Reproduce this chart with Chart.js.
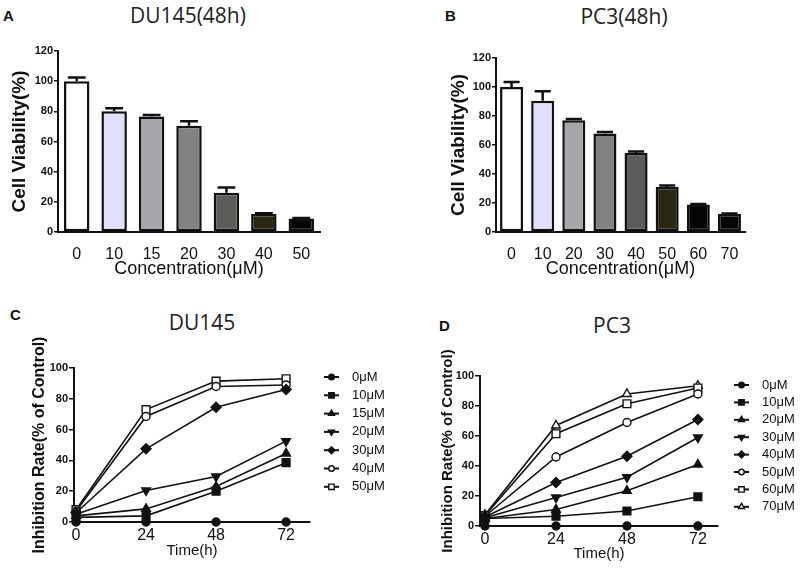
<!DOCTYPE html>
<html lang="en">
<head>
<meta charset="UTF-8">
<title>DU145 / PC3 viability and inhibition</title>
<script src="https://cdn.jsdelivr.net/npm/chart.js"></script>
<style>
  body { margin: 0; width: 800px; height: 573px; position: relative; background: #fff; overflow: hidden; }
  canvas { position: absolute; }
  .letter { position: absolute; font: bold 15px "Liberation Sans", Arial, sans-serif; line-height: 1; color: #111; transform: translateY(-50%); }
  .title { position: absolute; font: 21px "Open Sans", sans-serif; line-height: 1; color: #222; transform: translate(-50%, -50%); white-space: nowrap; }
</style>
</head>
<body>
<div class="letter" style="left:3px; top:15px">A</div>
<div class="title" style="left:188px; top:15px">DU145(48h)</div>
<div class="letter" style="left:445px; top:15px">B</div>
<div class="title" style="left:624px; top:16px">PC3(48h)</div>
<div class="letter" style="left:10px; top:314px">C</div>
<div class="title" style="left:202px; top:322px">DU145</div>
<div class="letter" style="left:439px; top:325px">D</div>
<div class="title" style="left:612px; top:325px">PC3</div>

<canvas id="chartA" width="400" height="290" style="left:0; top:0"></canvas>
<canvas id="chartB" width="400" height="290" style="left:400px; top:0"></canvas>
<canvas id="chartC" width="400" height="283" style="left:0; top:290px"></canvas>
<canvas id="chartD" width="400" height="283" style="left:400px; top:290px"></canvas>

<script>
// --- A: DU145 viability at 48h
const concA = ['0', '10', '15', '20', '30', '40', '50'];
const viabA = [100, 80, 76.5, 70.5, 26, 12, 9];
const errA = [2.5, 2, 1, 3, 3.5, 0.5, 0.3];

// --- B: PC3 viability at 48h
const concB = ['0', '10', '20', '30', '40', '50', '60', '70'];
const viabB = [100, 90.5, 77, 68, 54.5, 31, 19, 12.5];
const errB = [3.5, 6.5, 1, 1, 1, 1, 0.3, 0.3];

// --- C / D: inhibition over time
const hours = [0, 24, 48, 72];
const doseC = ['0μM', '10μM', '15μM', '20μM', '30μM', '40μM', '50μM'];
const du0 = [0, 0, 0, 0];
const du10 = [3, 4, 20, 38.5];
const du15 = [4, 8.5, 23, 44.5];
const du20 = [5, 20.5, 29.5, 52.5];
const du30 = [6, 47.5, 74.5, 86];
const du40 = [7, 68.5, 88, 89];
const du50 = [8, 73, 91.5, 93];

const doseD = ['0μM', '10μM', '20μM', '30μM', '40μM', '50μM', '60μM', '70μM'];
const pc0 = [0, 0, 0, 0];
const pc10 = [5, 6.5, 10, 19.5];
const pc20 = [5, 11, 23.5, 41];
const pc30 = [5.5, 19, 32.5, 59];
const pc40 = [6, 29, 46.5, 71];
const pc50 = [6.5, 46, 69, 88];
const pc60 = [7, 61.5, 81.5, 92];
const pc70 = [7.5, 67, 88, 93.5];

const viabTicks = [0, 20, 40, 60, 80, 100, 120];
const inhibTicks = [0, 20, 40, 60, 80, 100];

// styling
const INK = '#111';
const FONT = '"Liberation Sans", Arial, sans-serif';
Chart.defaults.font.family = FONT;
Chart.defaults.color = INK;

const barColorsA = ['#ffffff', '#e0e0fc', '#a6a6aa', '#828282', '#5c5c58', '#2a2810', '#050505'];
const barColorsB = ['#ffffff', '#e0e0fc', '#a6a6aa', '#828282', '#5c5c5a', '#2a2810', '#050505', '#050505'];

const markC = [
  { style: 'circle', fill: INK }, { style: 'rect', fill: INK }, { style: 'triangle', fill: INK },
  { style: 'triangle', fill: INK, rot: 180 }, { style: 'rectRot', fill: INK },
  { style: 'circle', fill: '#fff' }, { style: 'rect', fill: '#fff' }
];
const markD = markC.concat([{ style: 'triangle', fill: '#fff' }]);

function markRadius(style) {
  if (style === 'rect') return 5.5;
  if (style === 'circle') return 4;
  return 5;
}

// error bars: drawn from bar top to value + error, through the y scale
const errorBars = {
  id: 'errorBars',
  afterDatasetsDraw(chart, args, opts) {
    const ctx = chart.ctx;
    const y = chart.scales.y;
    const meta = chart.getDatasetMeta(0);
    const vals = chart.data.datasets[0].data;
    ctx.save();
    ctx.strokeStyle = INK;
    ctx.lineWidth = 2.5;
    meta.data.forEach((bar, i) => {
      const top = y.getPixelForValue(vals[i] + opts.errors[i]);
      const half = bar.width * 0.35;
      ctx.beginPath();
      ctx.moveTo(bar.x, bar.y);
      ctx.lineTo(bar.x, top);
      ctx.moveTo(bar.x - half, top);
      ctx.lineTo(bar.x + half, top);
      ctx.stroke();
    });
    ctx.restore();
  }
};

// legend with a short line through each marker, like the original
const lineLegend = {
  id: 'lineLegend',
  afterDraw(chart, args, o) {
    const ctx = chart.ctx;
    ctx.save();
    chart.data.datasets.forEach((ds, i) => {
      const y = o.y + i * o.gap;
      ctx.strokeStyle = INK;
      ctx.lineWidth = 2;
      ctx.beginPath();
      ctx.moveTo(o.x, y);
      ctx.lineTo(o.x + o.len, y);
      ctx.stroke();
      ctx.fillStyle = ds.pointBackgroundColor;
      ctx.lineWidth = 1.4;
      Chart.helpers.drawPoint(ctx, {
        pointStyle: ds.pointStyle, rotation: ds.pointRotation || 0,
        radius: ds.pointRadius * 0.7, borderWidth: 1.4
      }, o.x + o.len / 2, y);
      ctx.fillStyle = INK;
      ctx.font = '13px ' + FONT;
      ctx.textAlign = 'left';
      ctx.textBaseline = 'middle';
      ctx.fillText(ds.label, o.textX, y);
    });
    ctx.restore();
  }
};

// pin the plot area to the reference position
function frame(a) {
  const padL = a.yTitleX - a.yTitleSize / 2;
  const bottomEdge = a.xTitleY + a.xTitleSize / 2;
  return {
    padding: { left: padL, top: a.t, right: a.W - a.r, bottom: a.H - bottomEdge },
    yFit: s => { s.width = a.l - padL; },
    xFit: s => { s.height = bottomEdge - a.b; }
  };
}

function yAxis(f, max, ticks, title, titleSize, tickLen) {
  return {
    min: 0, max: max,
    afterFit: f.yFit,
    afterBuildTicks: s => { s.ticks = ticks.map(v => ({ value: v })); },
    grid: { display: true, drawOnChartArea: false, tickLength: tickLen, color: INK, lineWidth: 1.5 },
    border: { display: true, color: INK, width: 2 },
    ticks: { font: { size: 11, weight: 'bold' }, padding: 1, color: INK },
    title: { display: true, text: title, padding: 0, font: { size: titleSize, weight: 'bold', lineHeight: 1 }, color: INK }
  };
}

function barChart(id, labels, values, errors, colors, a, pct) {
  const f = frame(a);
  new Chart(document.getElementById(id), {
    type: 'bar',
    data: {
      labels: labels,
      datasets: [{
        data: values,
        backgroundColor: colors,
        borderColor: INK,
        borderWidth: 2.5,
        borderSkipped: false,
        barPercentage: pct,
        categoryPercentage: 1
      }]
    },
    options: {
      responsive: false,
      animation: false,
      layout: { padding: f.padding },
      plugins: { legend: { display: false }, tooltip: { enabled: false }, errorBars: { errors: errors } },
      scales: {
        x: {
          afterFit: f.xFit,
          grid: { display: false },
          border: { display: true, color: INK, width: 2 },
          ticks: { font: { size: 16 }, padding: 5, color: INK, autoSkip: false, maxRotation: 0 },
          title: { display: true, text: 'Concentration(μM)', padding: 0, font: { size: 18, lineHeight: 1 }, color: INK }
        },
        y: yAxis(f, 120, viabTicks, 'Cell Viability(%)', 19, 4)
      }
    },
    plugins: [errorBars]
  });
}

function lineChart(id, labels, series, marks, a, xmin, xmax, leg) {
  const f = frame(a);
  const datasets = series.map((s, i) => {
    const m = marks[i];
    return {
      label: labels[i],
      data: s.map((v, k) => ({ x: hours[k], y: v })),
      borderColor: INK,
      borderWidth: 1.6,
      pointStyle: m.style,
      pointRotation: m.rot || 0,
      pointRadius: markRadius(m.style),
      pointBackgroundColor: m.fill,
      pointBorderColor: INK,
      pointBorderWidth: 1.4,
      clip: false
    };
  });
  new Chart(document.getElementById(id), {
    type: 'line',
    data: { datasets: datasets },
    options: {
      responsive: false,
      animation: false,
      layout: { padding: f.padding },
      plugins: { legend: { display: false }, tooltip: { enabled: false }, lineLegend: leg },
      scales: {
        x: {
          type: 'linear', min: xmin, max: xmax,
          afterFit: f.xFit,
          afterBuildTicks: s => { s.ticks = hours.map(v => ({ value: v })); },
          grid: { display: true, drawOnChartArea: false, tickLength: 3, color: INK, lineWidth: 1.5 },
          border: { display: true, color: INK, width: 2 },
          ticks: { font: { size: 16 }, padding: 1, color: INK, maxRotation: 0 },
          title: { display: true, text: 'Time(h)', padding: 0, font: { size: a.xTitleSize, lineHeight: 1 }, color: INK }
        },
        y: yAxis(f, 100, inhibTicks, 'Inhibition Rate(% of Control)', a.yTitleSize, 5)
      }
    },
    plugins: [lineLegend]
  });
}

barChart('chartA', concA, viabA, errA, barColorsA,
  { W: 400, H: 290, l: 58, r: 320, t: 51, b: 232, yTitleX: 19.5, yTitleSize: 19, xTitleY: 269, xTitleSize: 18 }, 0.68);
barChart('chartB', concB, viabB, errB, barColorsB,
  { W: 400, H: 290, l: 96, r: 345, t: 58, b: 232, yTitleX: 58.5, yTitleSize: 19, xTitleY: 269, xTitleSize: 18 }, 0.74);

lineChart('chartC', doseC, [du0, du10, du15, du20, du30, du40, du50], markC,
  { W: 400, H: 283, l: 74, r: 310, t: 78, b: 232, yTitleX: 39.5, yTitleSize: 16, xTitleY: 261, xTitleSize: 15 },
  -0.7, 80.2, { x: 324, len: 15, textX: 352, y: 87, gap: 18.3 });
lineChart('chartD', doseD, [pc0, pc10, pc20, pc30, pc40, pc50, pc60, pc70], markD,
  { W: 400, H: 283, l: 80, r: 318, t: 86, b: 236, yTitleX: 48, yTitleSize: 15, xTitleY: 264, xTitleSize: 15 },
  -1.7, 78.8, { x: 334, len: 15, textX: 362, y: 95, gap: 17.4 });
</script>
</body>
</html>
